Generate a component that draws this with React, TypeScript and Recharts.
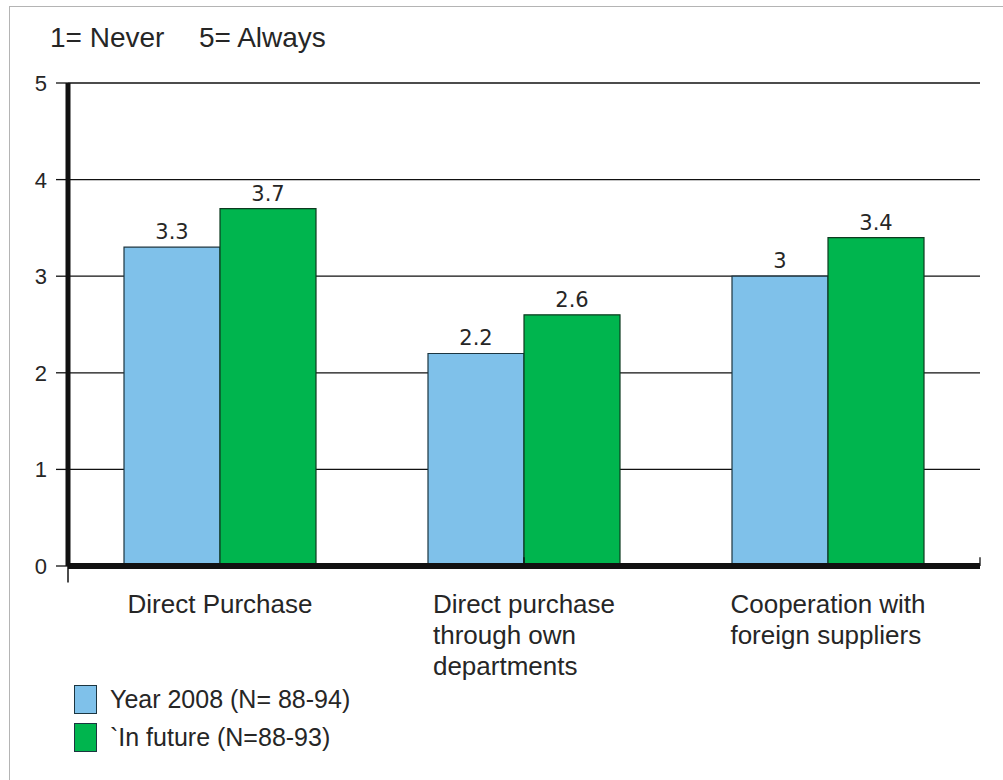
import React from 'react';
import { BarChart, Bar, XAxis, YAxis, CartesianGrid, LabelList, Legend, ReferenceLine } from 'recharts';

const CATEGORIES = ['Direct Purchase', 'Direct purchase\nthrough own\ndepartments', 'Cooperation with\nforeign suppliers'];
const YEAR_2008 = [3.3, 2.2, 3];
const IN_FUTURE = [3.7, 2.6, 3.4];
const Y_TICKS = [0, 1, 2, 3, 4, 5];
const SERIES_NAMES = ['Year 2008 (N= 88-94)', '`In future (N=88-93)'];
const SCALE_NOTE = ['1= Never', '5= Always'];

const FONT = '"Liberation Sans", Arial, sans-serif';
const LABEL_FONT = '"DejaVu Sans", Verdana, sans-serif';
const BLUE = '#7fc1ea';
const GREEN = '#00b54e';
const TEXT = '#262626';

const data = CATEGORIES.map((c, i) => ({ category: c, y2008: YEAR_2008[i], future: IN_FUTURE[i] }));

const CategoryTick = (props: any) => {
  const { x, y, payload } = props;
  const lines = String(payload.value).split('\n');
  return (
    <foreignObject x={x - 160} y={y + 23} width={320} height={110}>
      <div style={{ display: 'flex', justifyContent: 'center' }}>
        <div style={{ textAlign: 'left', fontFamily: FONT, fontSize: 26, lineHeight: '31px', color: TEXT, whiteSpace: 'nowrap' }}>
          {lines.map((l, i) => (
            <div key={i}>{l}</div>
          ))}
        </div>
      </div>
    </foreignObject>
  );
};

const ValueTick = (props: any) => {
  const { x, y, payload } = props;
  return (
    <text x={x} y={y} dy="0.36em" textAnchor="end" fill={TEXT} style={{ fontFamily: FONT, fontSize: 22 }}>
      {payload.value}
    </text>
  );
};

const LegendContent = (props: any) => {
  const payload = props.payload || [];
  return (
    <div style={{ fontFamily: FONT, fontSize: 25, color: TEXT }}>
      {payload.map((p: any, i: number) => (
        <div key={i} style={{ display: 'flex', alignItems: 'center', height: 38 }}>
          <span
            style={{
              display: 'inline-block',
              width: 21,
              height: 27,
              background: p.color,
              border: '1.5px solid #1c3540',
              marginRight: 13,
              boxSizing: 'content-box',
            }}
          />
          <span style={{ whiteSpace: 'nowrap' }}>{p.value}</span>
        </div>
      ))}
    </div>
  );
};

export default function App() {
  return (
    <div style={{ position: 'absolute', left: 0, top: 0, width: 1003, height: 780, background: '#fff', overflow: 'hidden' }}>
      <div
        style={{
          position: 'absolute',
          left: 9,
          top: 6,
          width: 1100,
          height: 900,
          borderTop: '1.5px solid #b4b4b4',
          borderLeft: '1.5px solid #b4b4b4',
        }}
      />
      <div style={{ position: 'absolute', left: 50, top: 22, fontFamily: FONT, fontSize: 28, color: TEXT, whiteSpace: 'nowrap' }}>
        {SCALE_NOTE[0]}
      </div>
      <div style={{ position: 'absolute', left: 199, top: 22, fontFamily: FONT, fontSize: 28, color: TEXT, whiteSpace: 'nowrap' }}>
        {SCALE_NOTE[1]}
      </div>
      <div style={{ position: 'absolute', left: 0, top: 0 }}>
        <BarChart width={1003} height={780} data={data} margin={{ top: 83, right: 23, bottom: 184, left: 0 }} barGap={0} barSize={96}>
          <CartesianGrid vertical={false} stroke="#111" strokeWidth={1.3} />
          <XAxis
            dataKey="category"
            tickLine={false}
            tickSize={0}
            tickMargin={0}
            height={30}
            interval={0}
            axisLine={{ stroke: '#111', strokeWidth: 6 }}
            tick={<CategoryTick />}
          />
          <XAxis xAxisId="n" type="number" domain={[0, 3]} hide />
          <YAxis
            width={68}
            domain={[0, 5]}
            ticks={Y_TICKS}
            interval={0}
            tickSize={12}
            tickMargin={9}
            axisLine={{ stroke: '#111', strokeWidth: 5 }}
            tickLine={{ stroke: '#111', strokeWidth: 1.3 }}
            tick={<ValueTick />}
          />
          <ReferenceLine xAxisId="n" segment={[{ x: 1, y: 0 }, { x: 1, y: 0.09 }]} stroke="#111" strokeWidth={1.3} ifOverflow="visible" />
          <ReferenceLine xAxisId="n" segment={[{ x: 2, y: 0 }, { x: 2, y: 0.09 }]} stroke="#111" strokeWidth={1.3} ifOverflow="visible" />
          <ReferenceLine xAxisId="n" segment={[{ x: 0, y: 0 }, { x: 0, y: -0.17 }]} stroke="#111" strokeWidth={1.5} ifOverflow="visible" />
          <Legend
            layout="vertical"
            align="center"
            verticalAlign="middle"
            content={<LegendContent />}
            wrapperStyle={{ position: 'absolute', left: 74, top: 680, width: 320, height: 80 }}
          />
          <Bar dataKey="y2008" name={SERIES_NAMES[0]} fill={BLUE} stroke="#1c3540" strokeWidth={1.2} isAnimationActive={false}>
            <LabelList dataKey="y2008" position="top" offset={8} fill={TEXT} fontSize={21} fontFamily={LABEL_FONT} />
          </Bar>
          <Bar dataKey="future" name={SERIES_NAMES[1]} fill={GREEN} stroke="#0d3a1f" strokeWidth={1.2} isAnimationActive={false}>
            <LabelList dataKey="future" position="top" offset={8} fill={TEXT} fontSize={21} fontFamily={LABEL_FONT} />
          </Bar>
        </BarChart>
      </div>
    </div>
  );
}
